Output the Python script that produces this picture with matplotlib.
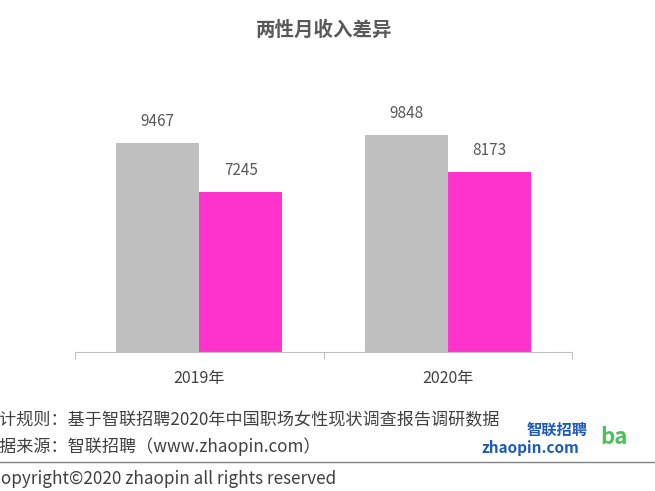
import matplotlib
matplotlib.use("Agg")
import matplotlib.pyplot as plt
plt.rcParams['font.family'] = ['Noto Sans CJK SC', 'DejaVu Sans']

categories = ["2019年", "2020年"]
male = [9467, 9848]
female = [7245, 8173]

fig = plt.figure(figsize=(6.55, 4.91), dpi=100)
ax = fig.add_axes([75/655, 1-352/491, 497/655, 292/491])
x = [0, 1]
w = 0.334
ax.bar([i - w/2 for i in x], male, w, color="#BFBFBF")
ax.bar([i + w/2 for i in x], female, w, color="#FF33CC")
for i in x:
    ax.text(i - w/2, male[i] + 600, str(male[i]), ha="center", va="bottom", fontsize=11, color="#595959")
    ax.text(i + w/2, female[i] + 600, str(female[i]), ha="center", va="bottom", fontsize=11, color="#595959")
ax.set_xlim(-0.5, 1.5)
ax.set_ylim(0, 13250)
for s in ["top", "right", "left"]:
    ax.spines[s].set_visible(False)
ax.spines["bottom"].set_color("#BFBFBF")
ax.set_yticks([])
ax.set_xticks([-0.5, 0.5, 1.5], minor=False)
ax.set_xticklabels(["", "", ""])
ax.tick_params(axis="x", length=5, color="#BFBFBF")
for i, c in zip(x, categories):
    ax.text(i, -0.06, c, transform=ax.get_xaxis_transform(), ha="center", va="top", fontsize=11.5, color="#404040")

fig.text(324/655, 1-30/491, "两性月收入差异", ha="center", va="center", fontsize=14, fontweight="bold", color="#595959")
fig.text(-18/655, 1-420/491, "统计规则：基于智联招聘2020年中国职场女性现状调查报告调研数据", ha="left", va="center", fontsize=12.3, color="#404040")
fig.text(-18/655, 1-447/491, "数据来源：智联招聘（www.zhaopin.com）", ha="left", va="center", fontsize=12.3, color="#404040")
fig.text(-10/655, 1-479/491, "Copyright©2020 zhaopin all rights reserved", ha="left", va="center", fontsize=12.3, color="#404040")
fig.add_artist(plt.Line2D([0, 1], [1-462/491]*2, color="#808080", lw=1, transform=fig.transFigure))
fig.text(557/655, 1-430/491, "智联招聘", ha="center", va="center", fontsize=11, fontweight="bold", color="#1E5BB8")
fig.text(530/655, 1-448/491, "zhaopin.com", ha="center", va="center", fontsize=11, fontweight="bold", style="italic", color="#1E5BB8")
fig.text(600/655, 1-438/491, "ba", ha="left", va="center", fontsize=16, fontweight="bold", color="#4CC05A")
fig.savefig("out.png", dpi=100)
